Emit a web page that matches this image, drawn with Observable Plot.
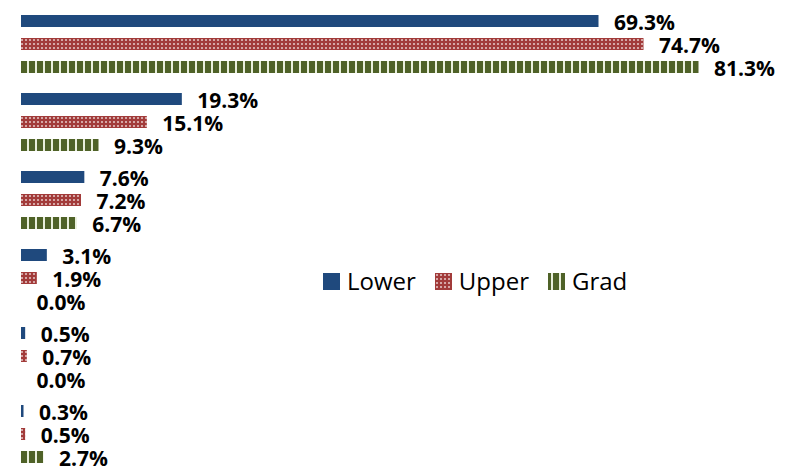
<!DOCTYPE html>
<html><head><meta charset="utf-8">
<script src="https://cdn.jsdelivr.net/npm/d3@7"></script>
<script src="https://cdn.jsdelivr.net/npm/@observablehq/plot@0.6"></script>
<style>
body{margin:0;background:#fff}
#wrap{position:relative;width:788px;height:470px}
#legend{position:absolute;left:323px;top:266px;display:flex;align-items:center;font-family:"Open Sans",sans-serif;font-size:24px;color:#000;line-height:30px}
#legend .item{display:flex;align-items:center;margin-right:19px}
#legend svg{margin-right:7px;display:block}
</style></head><body>
<svg width="0" height="0" style="position:absolute"><defs>
<pattern id="upperPat" patternUnits="userSpaceOnUse" width="4" height="4">
<rect width="4" height="4" fill="#a23b3a"></rect>
<rect x="1" y="1" width="2" height="2" fill="#ffffff" fill-opacity="0.55"></rect>
</pattern>
<pattern id="gradPat" patternUnits="userSpaceOnUse" width="8" height="8" patternTransform="translate(21,0)">
<rect width="8" height="8" fill="#e9efdc"></rect>
<rect width="6" height="8" fill="#4f6228"></rect>
</pattern>
</defs></svg>
<div id="wrap"><div id="legend"></div></div>
<script>
const groups = ["Group 1", "Group 2", "Group 3", "Group 4", "Group 5", "Group 6"];
const series = ["Lower", "Upper", "Grad"];
const lowerValues = [69.3, 19.3, 7.6, 3.1, 0.5, 0.3];
const upperValues = [74.7, 15.1, 7.2, 1.9, 0.7, 0.5];
const gradValues = [81.3, 9.3, 6.7, 0.0, 0.0, 2.7];
const seriesColors = ["#1f497d", "url(#upperPat)", "url(#gradPat)"];

const valuesBySeries = {Lower: lowerValues, Upper: upperValues, Grad: gradValues};
const data = [];
groups.forEach((g, i) => series.forEach(s => data.push({group: g, series: s, value: valuesBySeries[s][i]})));

const chart = Plot.plot({
  width: 788, height: 470,
  marginLeft: 21, marginRight: 17, marginTop: 13, marginBottom: 4,
  style: {fontFamily: "Open Sans", background: "white"},
  x: {domain: [0, 90], axis: null},
  y: {domain: series, axis: null, paddingInner: 0.46, paddingOuter: 0},
  fy: {domain: groups, axis: null, paddingInner: 0.249, paddingOuter: 0},
  color: {domain: series, range: seriesColors},
  marks: [
    Plot.barX(data, {x: "value", y: "series", fy: "group", fill: "series"}),
    Plot.text(data, {x: "value", y: "series", fy: "group", text: d => d.value.toFixed(1) + "%",
      textAnchor: "start", dx: 15, dy: 2, fontWeight: "bold", fontSize: 21, fill: "black"})
  ]
});
const wrap = document.getElementById("wrap");
wrap.insertBefore(chart, wrap.firstChild);

const legend = document.getElementById("legend");
series.forEach((s, i) => {
  const item = document.createElement("div");
  item.className = "item";
  item.innerHTML = `<svg width="17" height="17"><rect width="17" height="17" fill="${seriesColors[i]}"></rect></svg><span>${s}</span>`;
  legend.appendChild(item);
});
</script>
</body></html>
